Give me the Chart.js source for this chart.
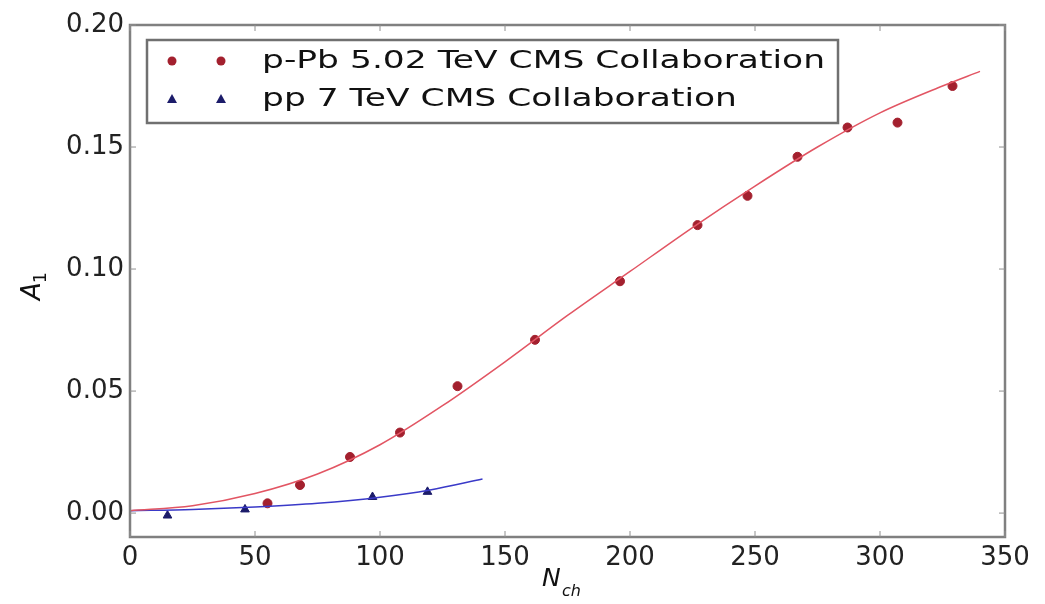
<!DOCTYPE html>
<html>
<head>
<meta charset="utf-8">
<script src="https://cdn.jsdelivr.net/npm/chart.js@4.4.1/dist/chart.umd.min.js"></script>
<style>
  html, body { margin: 0; padding: 0; background: #fff; }
</style>
</head>
<body>
<canvas id="chart" width="1045" height="604"></canvas>
<script>
"use strict";

// measured points
var pPbN = [55, 68, 88, 108, 131, 162, 196, 227, 247, 267, 287, 307, 329];
var pPbA = [0.004, 0.0115, 0.023, 0.033, 0.052, 0.071, 0.095, 0.118, 0.130, 0.146, 0.158, 0.160, 0.175];
var ppN = [15, 46, 97, 119];
var ppA = [-0.001, 0.0015, 0.0066, 0.0087];

// fitted curves
var pPbFitN = [0, 25, 50, 75, 100, 125, 150, 175, 200, 225, 250, 275, 300, 325, 340];
var pPbFitA = [0.001, 0.003, 0.008, 0.016, 0.028, 0.044, 0.062, 0.081, 0.099, 0.117, 0.134, 0.150, 0.164, 0.175, 0.181];
var ppFitN = [0, 25, 50, 75, 100, 120, 141];
var ppFitA = [0.001, 0.0015, 0.0025, 0.004, 0.0065, 0.0095, 0.014];

var xTicks = [0, 50, 100, 150, 200, 250, 300, 350];
var yTicks = [0, 0.05, 0.10, 0.15, 0.20];
var legendLabels = ['p-Pb 5.02 TeV CMS Collaboration', 'pp 7 TeV CMS Collaboration'];

var redDot = '#a3202e';
var blueDot = '#1c1c6a';

var toXY = function(xs, ys) {
  return xs.map(function(x, i) { return { x: x, y: ys[i] }; });
};

var fontFam = '"DejaVu Sans", sans-serif';

var framePlugin = {
  id: 'frame',
  afterDraw: function(chart) {
    var ctx = chart.ctx;
    var a = chart.chartArea;
    var xs = chart.scales.x, ys = chart.scales.y;
    ctx.save();

    // plot frame
    ctx.strokeStyle = '#808080';
    ctx.lineWidth = 2.5;
    ctx.strokeRect(a.left, a.top, a.right - a.left, a.bottom - a.top);

    // inward ticks
    ctx.lineWidth = 1;
    ctx.strokeStyle = '#909090';
    ctx.beginPath();
    xTicks.forEach(function(v) {
      var px = xs.getPixelForValue(v);
      ctx.moveTo(px, a.bottom); ctx.lineTo(px, a.bottom - 6);
      ctx.moveTo(px, a.top); ctx.lineTo(px, a.top + 6);
    });
    yTicks.forEach(function(v) {
      var py = ys.getPixelForValue(v);
      ctx.moveTo(a.left, py); ctx.lineTo(a.left + 6, py);
      ctx.moveTo(a.right, py); ctx.lineTo(a.right - 6, py);
    });
    ctx.stroke();

    // legend
    var lx = 147, ly = 40, lw = 691, lh = 83;
    ctx.fillStyle = '#fff';
    ctx.fillRect(lx, ly, lw, lh);
    ctx.strokeStyle = '#707070';
    ctx.lineWidth = 2.5;
    ctx.strokeRect(lx, ly, lw, lh);

    var rows = [61, 99];
    [172, 221].forEach(function(mx) {
      ctx.fillStyle = redDot;
      ctx.beginPath();
      ctx.arc(mx, rows[0], 4.5, 0, Math.PI * 2);
      ctx.fill();
      ctx.fillStyle = blueDot;
      ctx.beginPath();
      ctx.moveTo(mx, rows[1] - 5);
      ctx.lineTo(mx + 5, rows[1] + 4);
      ctx.lineTo(mx - 5, rows[1] + 4);
      ctx.closePath();
      ctx.fill();
    });
    // the reference legend text is stretched sideways
    ctx.fillStyle = '#111';
    ctx.font = '25px ' + fontFam;
    ctx.textAlign = 'left';
    ctx.textBaseline = 'middle';
    var stretch = 563 / ctx.measureText(legendLabels[0]).width;
    legendLabels.forEach(function(t, i) {
      ctx.save();
      ctx.translate(262, rows[i]);
      ctx.scale(stretch, 1);
      ctx.fillText(t, 0, 0);
      ctx.restore();
    });

    // axis titles
    ctx.font = 'italic 25px ' + fontFam;
    ctx.textBaseline = 'alphabetic';
    ctx.fillText('N', 542, 586);
    ctx.font = 'italic 16px ' + fontFam;
    ctx.fillText('ch', 562, 596);

    ctx.translate(40, 300);
    ctx.rotate(-Math.PI / 2);
    ctx.font = 'italic 26px ' + fontFam;
    ctx.fillText('A', 0, 0);
    ctx.font = '17px ' + fontFam;
    ctx.fillText('1', 17, 6);
    ctx.restore();
  }
};

new Chart(document.getElementById('chart'), {
  type: 'scatter',
  data: {
    datasets: [{
      label: 'p-Pb fit',
      data: toXY(pPbFitN, pPbFitA),
      showLine: true,
      borderColor: '#e25563',
      borderWidth: 1.5,
      pointRadius: 0,
      cubicInterpolationMode: 'monotone'
    }, {
      label: 'pp fit',
      data: toXY(ppFitN, ppFitA),
      showLine: true,
      borderColor: '#3a3ac8',
      borderWidth: 1.5,
      pointRadius: 0,
      cubicInterpolationMode: 'monotone'
    }, {
      label: legendLabels[0],
      data: toXY(pPbN, pPbA),
      pointStyle: 'circle',
      pointRadius: 4.5,
      backgroundColor: redDot,
      borderColor: redDot
    }, {
      label: legendLabels[1],
      data: toXY(ppN, ppA),
      pointStyle: 'triangle',
      pointRadius: 5,
      backgroundColor: blueDot,
      borderColor: blueDot
    }]
  },
  options: {
    responsive: false,
    animation: false,
    devicePixelRatio: 1,
    layout: { padding: { top: 25, right: 40, left: 0, bottom: 0 } },
    plugins: {
      legend: false,
      tooltip: false
    },
    scales: {
      x: {
        type: 'linear',
        min: 0,
        max: 350,
        grid: { display: false, drawTicks: false },
        border: { display: false },
        afterFit: function(scale) { scale.height = 67; },
        afterBuildTicks: function(scale) {
          scale.ticks = xTicks.map(function(v) { return { value: v }; });
        },
        ticks: {
          padding: 6,
          color: '#222',
          font: { family: fontFam, size: 26 },
          maxRotation: 0,
          callback: function(v) { return String(v); }
        }
      },
      y: {
        type: 'linear',
        min: -0.0098,
        max: 0.20,
        grid: { display: false, drawTicks: false },
        border: { display: false },
        afterFit: function(scale) { scale.width = 130; },
        afterBuildTicks: function(scale) {
          scale.ticks = yTicks.map(function(v) { return { value: v }; });
        },
        ticks: {
          padding: 6,
          color: '#222',
          font: { family: fontFam, size: 26 },
          callback: function(v) { return v.toFixed(2); }
        }
      }
    }
  },
  plugins: [framePlugin]
});
</script>
</body>
</html>
